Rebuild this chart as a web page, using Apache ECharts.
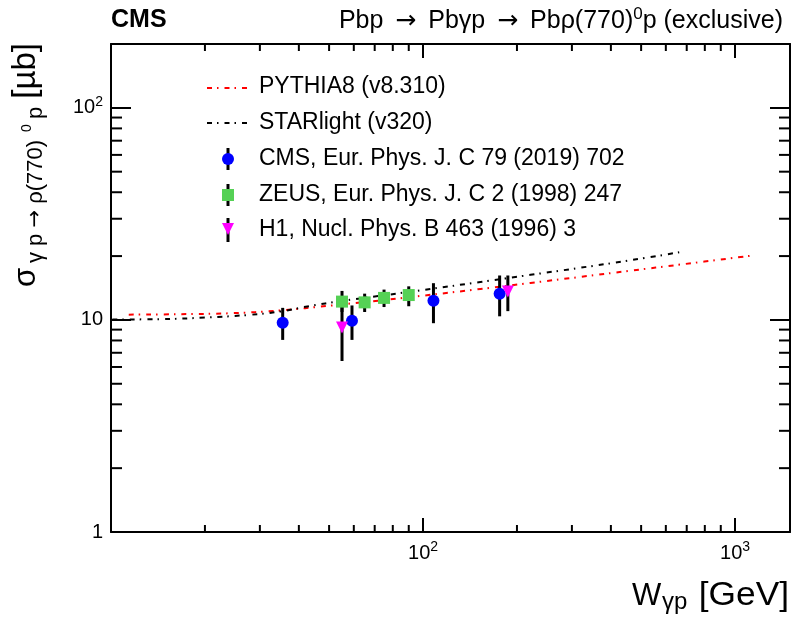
<!DOCTYPE html>
<html>
<head>
<meta charset="utf-8">
<script src="https://cdn.jsdelivr.net/npm/echarts@6/dist/echarts.min.js"></script>
<style>
  html, body { margin: 0; padding: 0; background: #fff; }
  #chart { width: 792px; height: 627px; }
</style>
</head>
<body>
<div id="chart"></div>
<script>
// Photoproduction cross section sigma(gamma p -> rho(770)0 p) [µb] versus W_gamma-p [GeV]

// CMS, Eur. Phys. J. C 79 (2019) 702
const cmsW = [35.5, 59.2, 108, 176];
const cmsSigma = [9.7, 9.9, 12.3, 13.3];
const cmsLow = [8.05, 8.05, 9.65, 10.4];
const cmsHigh = [11.4, 11.7, 14.9, 16.2];

// ZEUS, Eur. Phys. J. C 2 (1998) 247
const zeusW = [55, 65, 75, 90];
const zeusSigma = [12.2, 12.1, 12.7, 13.1];
const zeusLow = [10.9, 10.9, 11.5, 11.6];
const zeusHigh = [13.7, 13.3, 13.9, 14.4];

// H1, Nucl. Phys. B 463 (1996) 3
const h1W = [55, 187];
const h1Sigma = [9.2, 13.6];
const h1Low = [6.4, 11.0];
const h1High = [11.8, 16.2];

// Model predictions
const pythiaW = [11.4, 16.6, 24.1, 34.8, 50.4, 72.9, 105.5, 152.7, 221, 320, 463, 670, 1146];
const pythiaSigma = [10.59, 10.64, 10.75, 11.08, 11.68, 12.36, 13.13, 13.99, 14.94, 15.96, 17.07, 18.25, 20.15];

const starlightW = [10.1, 14.4, 20.0, 27.9, 34.8, 43.5, 54.3, 72.9, 105.5, 152.7, 221, 320, 463, 670];
const starlightSigma = [10.05, 10.08, 10.26, 10.57, 10.95, 11.64, 12.26, 12.99, 13.99, 15.10, 16.31, 17.63, 19.12, 20.9];

// Axis ranges and minor tick positions
const xRange = [10, 1500];
const yRange = [1, 200];
const xMinorTicks = [20, 30, 40, 50, 60, 70, 80, 90, 200, 300, 400, 500, 600, 700, 800, 900];
const yMinorTicks = [2, 3, 4, 5, 6, 7, 8, 9, 20, 30, 40, 50, 60, 70, 80, 90];

const FONT = '"Liberation Sans", Arial, Helvetica, sans-serif';
const ARROW_FONT = '"DejaVu Sans", sans-serif';

const chart = echarts.init(document.getElementById('chart'), null, { renderer: 'canvas' });

function decadeLabel(v) {
  const e = Math.log10(v);
  const r = Math.round(e);
  if (Math.abs(e - r) > 1e-6) return '';
  if (r === 0) return '1';
  if (r === 1) return '10';
  return '10{s|' + r + '}';
}

const labelRich = {
  s: { fontSize: 14, fontFamily: FONT, color: '#000', lineHeight: 13, verticalAlign: 'top' }
};

function errorBars(name, xs, lo, hi) {
  return {
    name: name,
    type: 'custom',
    xAxisIndex: 0,
    yAxisIndex: 0,
    data: xs.map((x, i) => [x, lo[i], hi[i]]),
    encode: { x: 0, y: [1, 2] },
    renderItem: function (params, api) {
      const a = api.coord([api.value(0), api.value(1)]);
      const b = api.coord([api.value(0), api.value(2)]);
      return {
        type: 'line',
        shape: { x1: a[0], y1: a[1], x2: b[0], y2: b[1] },
        style: { stroke: '#000', lineWidth: 3 }
      };
    },
    z: 3,
    silent: true
  };
}

function points(name, xs, ys, symbol, color, rotate) {
  return {
    name: name,
    type: 'scatter',
    xAxisIndex: 0,
    yAxisIndex: 0,
    data: xs.map((x, i) => [x, ys[i]]),
    symbol: symbol,
    symbolSize: 12,
    symbolRotate: rotate || 0,
    itemStyle: { color: color, opacity: 1 },
    z: 4,
    silent: true
  };
}

function curve(name, xs, ys, color) {
  return {
    name: name,
    type: 'line',
    xAxisIndex: 0,
    yAxisIndex: 0,
    data: xs.map((x, i) => [x, ys[i]]),
    smooth: 0.4,
    showSymbol: false,
    lineStyle: { color: color, width: 2, type: [5, 5, 1.5, 6] },
    z: 2,
    silent: true
  };
}

// Minor ticks on all four frame sides, placed through the axis scales
const minorTickSeries = [
  {
    type: 'custom',
    xAxisIndex: 0, yAxisIndex: 0,
    data: xMinorTicks.map(v => [v, yRange[0]]),
    encode: { x: 0, y: 1 },
    renderItem: function (params, api) {
      const b = api.coord([api.value(0), yRange[0]]);
      const t = api.coord([api.value(0), yRange[1]]);
      const st = { stroke: '#000', lineWidth: 2 };
      return {
        type: 'group',
        children: [
          { type: 'line', shape: { x1: b[0], y1: b[1], x2: b[0], y2: b[1] - 7 }, style: st },
          { type: 'line', shape: { x1: t[0], y1: t[1], x2: t[0], y2: t[1] + 7 }, style: st }
        ]
      };
    },
    z: 5, silent: true
  },
  {
    type: 'custom',
    xAxisIndex: 0, yAxisIndex: 0,
    data: yMinorTicks.map(v => [xRange[0], v]),
    encode: { x: 0, y: 1 },
    renderItem: function (params, api) {
      const l = api.coord([xRange[0], api.value(1)]);
      const r = api.coord([xRange[1], api.value(1)]);
      const st = { stroke: '#000', lineWidth: 2 };
      return {
        type: 'group',
        children: [
          { type: 'line', shape: { x1: l[0], y1: l[1], x2: l[0] + 11, y2: l[1] }, style: st },
          { type: 'line', shape: { x1: r[0], y1: r[1], x2: r[0] - 11, y2: r[1] }, style: st }
        ]
      };
    },
    z: 5, silent: true
  }
];

const axisLineStyle = { show: true, onZero: false, lineStyle: { color: '#000', width: 2 } };

const arrowRich = { fontSize: 25, fontFamily: ARROW_FONT, fill: '#000', lineHeight: 30, padding: [0, 5, 0, 5] };

const LEGEND_FONT = '23px ' + FONT;

const option = {
  animation: false,
  backgroundColor: '#fff',
  grid: { left: 111, right: 2, top: 44, bottom: 95, containLabel: false },
  xAxis: [
    {
      type: 'log', logBase: 10, min: xRange[0], max: xRange[1], position: 'bottom',
      axisLine: axisLineStyle,
      axisTick: { show: true, inside: true, length: 14, lineStyle: { color: '#000', width: 2 } },
      axisLabel: {
        formatter: v => (Math.abs(v - 10) < 1e-6 ? '' : decadeLabel(v)),
        fontSize: 20, fontFamily: FONT, color: '#000', margin: 8, lineHeight: 26,
        rich: labelRich, showMaxLabel: false
      },
      splitLine: { show: false }, minorTick: { show: false }
    },
    {
      type: 'log', logBase: 10, min: xRange[0], max: xRange[1], position: 'top',
      axisLine: axisLineStyle,
      axisTick: { show: true, inside: true, length: 14, lineStyle: { color: '#000', width: 2 } },
      axisLabel: { show: false },
      splitLine: { show: false }
    }
  ],
  yAxis: [
    {
      type: 'log', logBase: 10, min: yRange[0], max: yRange[1], position: 'left',
      axisLine: axisLineStyle,
      axisTick: { show: true, inside: true, length: 20, lineStyle: { color: '#000', width: 2 } },
      axisLabel: {
        formatter: decadeLabel,
        fontSize: 20, fontFamily: FONT, color: '#000', margin: 8, lineHeight: 26,
        rich: labelRich, showMaxLabel: false
      },
      splitLine: { show: false }
    },
    {
      type: 'log', logBase: 10, min: yRange[0], max: yRange[1], position: 'right',
      axisLine: axisLineStyle,
      axisTick: { show: true, inside: true, length: 20, lineStyle: { color: '#000', width: 2 } },
      axisLabel: { show: false },
      splitLine: { show: false }
    }
  ],
  series: [
    curve('PYTHIA8 (v8.310)', pythiaW, pythiaSigma, '#ff0000'),
    curve('STARlight (v320)', starlightW, starlightSigma, '#000000'),
    errorBars('CMS err', cmsW, cmsLow, cmsHigh),
    errorBars('ZEUS err', zeusW, zeusLow, zeusHigh),
    errorBars('H1 err', h1W, h1Low, h1High),
    points('CMS, Eur. Phys. J. C 79 (2019) 702', cmsW, cmsSigma, 'circle', '#0000ff'),
    points('ZEUS, Eur. Phys. J. C 2 (1998) 247', zeusW, zeusSigma, 'rect', '#55d155'),
    points('H1, Nucl. Phys. B 463 (1996) 3', h1W, h1Sigma, 'triangle', '#ff00ff', 180)
  ].concat(minorTickSeries),
  graphic: [
    // Header
    { type: 'text', left: 111, top: 8, style: { text: 'CMS', font: 'bold 25px ' + FONT, fill: '#000' } },
    {
      type: 'text', x: 783, y: 21,
      style: {
        text: 'Pbp {a|\u2192} Pb\u03b3p {a|\u2192} Pb\u03c1(770){sup|0}p (exclusive)',
        font: '25px ' + FONT, fill: '#000', align: 'right', verticalAlign: 'middle', lineHeight: 30,
        rich: {
          a: arrowRich,
          sup: { fontSize: 17, fontFamily: FONT, fill: '#000', lineHeight: 14, verticalAlign: 'top' }
        }
      }
    },
    // X axis title
    { type: 'text', x: 632, y: 596, style: { text: 'W', font: '31px ' + FONT, fill: '#000', align: 'left', verticalAlign: 'middle' } },
    { type: 'text', x: 662, y: 602, style: { text: '\u03b3p', font: '24px ' + FONT, fill: '#000', align: 'left', verticalAlign: 'middle' } },
    { type: 'text', x: 789, y: 596, scaleX: 1.07, style: { text: '[GeV]', font: '33px ' + FONT, fill: '#000', align: 'right', verticalAlign: 'middle' } },
    // Y axis title (rotated, reads bottom to top)
    {
      type: 'group', x: 26, y: 300, rotation: Math.PI / 2,
      children: [
        { type: 'text', x: 13, y: 0, style: { text: '\u03c3', font: '31px ' + FONT, fill: '#000', align: 'left', verticalAlign: 'middle' } },
        {
          type: 'text', x: 37, y: 10,
          style: {
            text: '\u03b3 p {a|\u2192} \u03c1(770)', font: '22px ' + FONT, fill: '#000', align: 'left', verticalAlign: 'middle',
            rich: { a: { fontSize: 21, fontFamily: ARROW_FONT, fill: '#000' } }
          }
        },
        { type: 'text', x: 168, y: 1, style: { text: '0', font: '14px ' + FONT, fill: '#000', align: 'left', verticalAlign: 'middle' } },
        { type: 'text', x: 181, y: 10, style: { text: 'p', font: '22px ' + FONT, fill: '#000', align: 'left', verticalAlign: 'middle' } },
        { type: 'text', x: 257, y: 0, style: { text: '[\u00b5b]', font: '33px ' + FONT, fill: '#000', align: 'right', verticalAlign: 'middle' } }
      ]
    },
    // Legend
    { type: 'line', shape: { x1: 207, y1: 88, x2: 248, y2: 88 }, style: { stroke: '#ff0000', lineWidth: 2, lineDash: [5, 5, 1.5, 6] } },
    { type: 'text', x: 259, y: 87, style: { text: 'PYTHIA8 (v8.310)', font: LEGEND_FONT, fill: '#000', verticalAlign: 'middle' } },
    { type: 'line', shape: { x1: 207, y1: 123, x2: 248, y2: 123 }, style: { stroke: '#000', lineWidth: 2, lineDash: [5, 5, 1.5, 6] } },
    { type: 'text', x: 259, y: 122.5, style: { text: 'STARlight (v320)', font: LEGEND_FONT, fill: '#000', verticalAlign: 'middle' } },
    { type: 'line', shape: { x1: 228, y1: 148, x2: 228, y2: 170 }, style: { stroke: '#000', lineWidth: 3 } },
    { type: 'circle', shape: { cx: 228, cy: 159, r: 6 }, style: { fill: '#0000ff' } },
    { type: 'text', x: 259, y: 158.5, style: { text: 'CMS, Eur. Phys. J. C 79 (2019) 702', font: LEGEND_FONT, fill: '#000', verticalAlign: 'middle' } },
    { type: 'line', shape: { x1: 228, y1: 184, x2: 228, y2: 206 }, style: { stroke: '#000', lineWidth: 3 } },
    { type: 'rect', shape: { x: 222, y: 189, width: 12, height: 12 }, style: { fill: '#55d155' } },
    { type: 'text', x: 259, y: 194.5, style: { text: 'ZEUS, Eur. Phys. J. C 2 (1998) 247', font: LEGEND_FONT, fill: '#000', verticalAlign: 'middle' } },
    { type: 'line', shape: { x1: 228, y1: 218, x2: 228, y2: 242 }, style: { stroke: '#000', lineWidth: 3 } },
    { type: 'polygon', shape: { points: [[222, 223], [234, 223], [228, 235]] }, style: { fill: '#ff00ff' } },
    { type: 'text', x: 259, y: 230, style: { text: 'H1, Nucl. Phys. B 463 (1996) 3', font: LEGEND_FONT, fill: '#000', verticalAlign: 'middle' } }
  ]
};

chart.setOption(option);
</script>
</body>
</html>
